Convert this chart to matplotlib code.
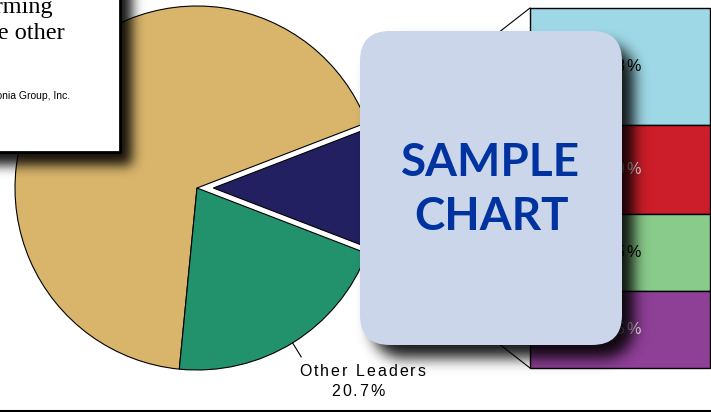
import numpy as np
import matplotlib
matplotlib.use('Agg')
import matplotlib.pyplot as plt
from matplotlib.patches import Rectangle, FancyBboxPatch

W, H = 711, 412

## chart data
pie_names   = ['Top Leaders', 'All Others', 'Other Leaders']
pie_values  = [11.7, 67.6, 20.7]
pie_colors  = ['#232062', '#D9B56C', '#22926D']

bar_names   = ['Leader A', 'Leader B', 'Leader C', 'Leader D']   # top to bottom
bar_values  = [3.8, 2.9, 2.5, 2.5]
bar_labels  = ['3.8%', '2.9%', '2.5%', '2.5%']
bar_colors  = ['#9ED8E6', '#CC1E2A', '#89CB8A', '#8E3F96']
bar_tcolors = ['black', 'white', 'black', 'white']

note_lines  = ['Market leaders are outperforming', 'all of the other']
note_source = 'Source: The Caledonia Group, Inc.'


def blur( m, sigma ):
    x = np.arange(-int(3 * sigma), int(3 * sigma) + 1)
    k = np.exp(-x**2 / (2. * sigma**2))
    k /= k.sum()
    m = np.apply_along_axis(lambda v: np.convolve(v, k, 'same'), 0, m)
    m = np.apply_along_axis(lambda v: np.convolve(v, k, 'same'), 1, m)
    return m


def shadow( x0, y0, x1, y1, rad, dx, dy, sigma, alpha ):
    '''
    soft drop shadow of a (rounded) box, box given in pixels, y downwards
    '''
    P = 60
    yy, xx = np.mgrid[-P:H + P, -P:W + P] + 0.5
    cx, cy = (x0 + x1) / 2. + dx, (y0 + y1) / 2. + dy
    hw, hh = (x1 - x0) / 2., (y1 - y0) / 2.
    qx = np.clip(np.abs(xx - cx) - (hw - rad), 0, None)
    qy = np.clip(np.abs(yy - cy) - (hh - rad), 0, None)
    m = (np.hypot(qx, qy) <= max(rad, 0.01)).astype(float)
    m = blur(m, sigma)[P:-P, P:-P]
    img = np.zeros((H, W, 4))
    img[..., 3] = np.clip(m * alpha, 0, 1)
    return img


def spaced_text( ax, cx, y, s, gap, **kw ):
    '''
    centred text with extra letter spacing, one character at a time
    '''
    r = ax.figure.canvas.get_renderer()

    def width( t ):
        tt = ax.text(0, 0, t + '|', **kw)
        w = tt.get_window_extent(r).width
        tt.remove()
        return w
    bar_w = width('')
    offs = [width(s[:i]) - bar_w for i in range(len(s) + 1)]
    total = offs[-1] + gap * (len(s) - 1)
    x0 = cx - total / 2.
    for i, ch in enumerate(s):
        ax.text(x0 + offs[i] + gap * i, y, ch, ha='left', **kw)


fig = plt.figure(figsize=(W / 100., H / 100.), dpi=100)
ax = fig.add_axes([0, 0, 1, 1])

## pie, first slice is exploded and centred on the right
pcx, pcy, prad = 197, H - 188, 182
wedges, _ = ax.pie( pie_values, colors=pie_colors,
                    explode=[0.09 * prad, 0, 0],
                    startangle=-180. * pie_values[0] / sum(pie_values),
                    center=(pcx, pcy), radius=prad, frame=True,
                    wedgeprops={'edgecolor': 'black', 'linewidth': 0.8} )

## stacked bar breaking down the exploded slice
bx, bw, btop, bbot = 620, 180, H - 8, H - 368
scale = (btop - bbot) / float(sum(bar_values))
heights = np.array(bar_values) * scale
tops = btop - np.concatenate(([0], np.cumsum(heights)[:-1]))
ax.bar( bx, heights, width=bw, bottom=tops - heights, color=bar_colors,
        edgecolor='black', linewidth=1.0, zorder=2 )
for top, hgt, lab, tc in zip(tops, heights, bar_labels, bar_tcolors):
    spaced_text( ax, bx, top - hgt / 2., lab, 1.5, va='center', color=tc,
                 fontsize=11.5, family=['Liberation Sans', 'DejaVu Sans'],
                 zorder=3 )

## connector lines from the exploded slice to the bar
nw = wedges[0]
for th, yb in ((nw.theta2, btop), (nw.theta1, bbot)):
    xa = nw.center[0] + nw.r * np.cos(np.radians(th))
    ya = nw.center[1] + nw.r * np.sin(np.radians(th))
    ax.plot([xa, bx - bw / 2.], [ya, yb], color='black', lw=0.8, zorder=1)

## label for the green slice
gw = wedges[2]
mid = np.radians((gw.theta1 + gw.theta2) / 2.)
ax.plot( [pcx + prad * np.cos(mid), pcx + 1.09 * prad * np.cos(mid)],
         [pcy + prad * np.sin(mid), pcy + 1.09 * prad * np.sin(mid)],
         color='black', lw=0.8 )
spaced_text( ax, 362, H - 372, pie_names[2], 2.0, va='center',
             fontsize=11.5, family=['Liberation Sans', 'DejaVu Sans'] )
spaced_text( ax, 358, H - 391, '{:.1f}%'.format(pie_values[2]), 2.0,
             va='center', fontsize=11.5,
             family=['Liberation Sans', 'DejaVu Sans'] )

## note box top left
ax.imshow( shadow(-40, -40, 120, 152, 0, 12, 13, 6, 0.92),
           extent=(0, W, 0, H), origin='upper', zorder=4,
           interpolation='bilinear' )
ax.add_patch( Rectangle((-20, H - 152), 140, 200, facecolor='white',
                        edgecolor='black', linewidth=2.0, zorder=5) )
ax.text( 53, H - 13, note_lines[0], ha='right', va='baseline', zorder=6,
         fontsize=17.5, family=['Liberation Serif', 'DejaVu Serif'] )
ax.text( 65, H - 39, note_lines[1], ha='right', va='baseline', zorder=6,
         fontsize=17.5, family=['Liberation Serif', 'DejaVu Serif'] )
ax.text( 70, H - 99, note_source, ha='right', va='baseline', zorder=6,
         fontsize=7.5, family=['Liberation Sans', 'DejaVu Sans'] )

## sample overlay
ax.imshow( shadow(360, 31, 622, 345, 30, 12, 13, 7, 0.9),
           extent=(0, W, 0, H), origin='upper', zorder=7,
           interpolation='bilinear' )
ax.add_patch( FancyBboxPatch((360, H - 345), 262, 314,
                             boxstyle='round,pad=0,rounding_size=30',
                             facecolor='#CBD6EA', edgecolor='none',
                             zorder=8) )
ax.text( 491, H - 190, 'SAMPLE\nCHART', ha='center', va='center',
         color='#0033A0', fontsize=33, fontweight='bold', linespacing=1.38,
         family=['Lato', 'Liberation Sans'], zorder=9 )

## bottom rule
ax.plot( [0, W], [1.5, 1.5], color='black', lw=1.5, zorder=10 )

ax.set_xlim(0, W)
ax.set_ylim(0, H)
ax.set_axis_off()
fig.savefig('out.png', dpi=100)
